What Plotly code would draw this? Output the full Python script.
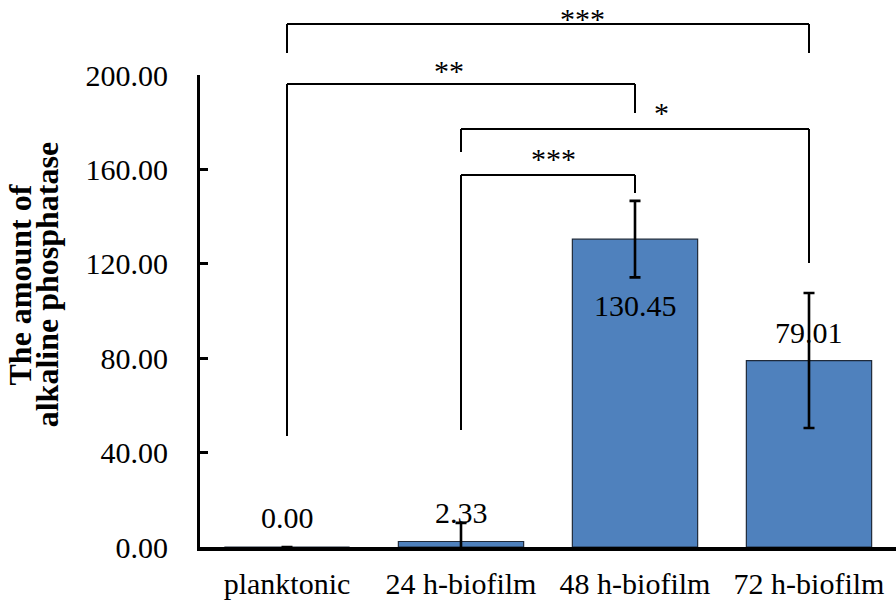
import plotly.graph_objects as go

# ---------------- data ----------------
categories = ["planktonic", "24 h-biofilm", "48 h-biofilm", "72 h-biofilm"]
values = [0.00, 2.33, 130.45, 79.01]
errors = [0.0, 7.9, 16.2, 28.6]
value_labels = ["0.00", "2.33", "130.45", "79.01"]
value_label_y = [12.7, 14.8, 102.5, 90.7]

y_ticks = [0, 40, 80, 120, 160, 200]
y_max = 200

# significance brackets: left cat, right cat, bar height, left leg end, right leg end
br_left = [0, 0, 1, 1]
br_right = [3, 2, 3, 2]
br_top = [221.6, 196.2, 177.1, 157.6]
br_left_end = [209.3, 47.0, 167.4, 49.6]
br_right_end = [209.3, 183.9, 120.3, 150.0]
br_text = ["***", "**", "*", "***"]
br_text_x = [1.70, 0.93, 2.15, 1.53]
br_text_y = [231.8, 202.0, 184.2, 164.7]

FONT = "Liberation Serif, Times New Roman, serif"

fig = go.Figure()
fig.add_trace(go.Bar(
    x=categories,
    y=values,
    width=0.72,
    marker=dict(color="#4F81BD", line=dict(color="#1f2a3a", width=1.2)),
    error_y=dict(type="data", array=errors, visible=True,
                 color="black", thickness=2.6, width=5.5),
    showlegend=False,
))

shapes = []
annotations = []
for i in range(len(br_text)):
    xl, xr = br_left[i], br_right[i]
    yt = br_top[i] / y_max
    shapes.append(dict(type="line", xref="x", yref="paper", x0=xl, x1=xr, y0=yt, y1=yt,
                       line=dict(color="black", width=2)))
    shapes.append(dict(type="line", xref="x", yref="paper", x0=xl, x1=xl, y0=yt,
                       y1=br_left_end[i] / y_max, line=dict(color="black", width=2)))
    shapes.append(dict(type="line", xref="x", yref="paper", x0=xr, x1=xr, y0=yt,
                       y1=br_right_end[i] / y_max, line=dict(color="black", width=2)))
    top_one = br_top[i] == max(br_top)
    annotations.append(dict(xref="x", yref="paper", x=br_text_x[i], y=br_text_y[i] / y_max,
                            text=br_text[i], showarrow=False,
                            font=dict(family=FONT, size=30, color="black"),
                            xanchor="center", yanchor="top" if top_one else "middle"))

for i, lab in enumerate(value_labels):
    annotations.append(dict(xref="x", yref="y", x=i, y=value_label_y[i], text=lab,
                            showarrow=False, font=dict(family=FONT, size=30, color="black"),
                            xanchor="center", yanchor="middle"))

# y-axis title (two rotated lines)
annotations.append(dict(xref="paper", yref="paper", x=-0.2580, y=0.555, text="<b>The amount of</b>",
                        textangle=-90, showarrow=False,
                        font=dict(family=FONT, size=32, color="black"),
                        xanchor="center", yanchor="middle"))
annotations.append(dict(xref="paper", yref="paper", x=-0.2195, y=0.555, text="<b>alkaline phosphatase</b>",
                        textangle=-90, showarrow=False,
                        font=dict(family=FONT, size=32, color="black"),
                        xanchor="center", yanchor="middle"))

fig.update_layout(
    width=896, height=602,
    margin=dict(l=200, r=0, t=75, b=55),
    paper_bgcolor="white", plot_bgcolor="white",
    shapes=shapes, annotations=annotations,
    font=dict(family=FONT, size=30, color="black"),
)
fig.update_xaxes(
    range=[-0.5, 3.5], showline=True, linecolor="black", linewidth=3.5,
    ticks="", showgrid=False, zeroline=False,
    tickfont=dict(family=FONT, size=30, color="black"),
    ticklabelstandoff=7,
)
fig.update_yaxes(
    range=[0, y_max], tickvals=y_ticks, tickformat=".2f",
    showline=True, linecolor="black", linewidth=3,
    ticks="inside", ticklen=8, tickwidth=3, tickcolor="black",
    showgrid=False, zeroline=False,
    tickfont=dict(family=FONT, size=30, color="black"),
    ticklabelstandoff=23,
)

# remove the browser's default page margin so the figure sits at the window corner
fig.write_html("out.html", config={"displayModeBar": False},
               post_script="document.body.style.margin='0px';")
